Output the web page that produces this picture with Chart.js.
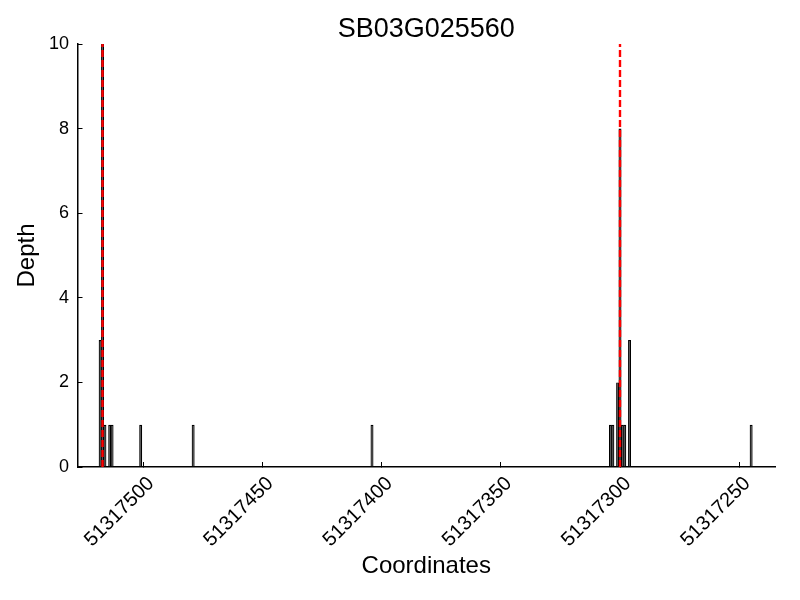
<!DOCTYPE html>
<html>
<head>
<meta charset="utf-8">
<title>SB03G025560</title>
<script src="https://cdn.jsdelivr.net/npm/chart.js@4/dist/chart.umd.min.js"></script>
<style>
  body { margin: 0; background: #fff; }
  #wrap { width: 800px; height: 600px; }
</style>
</head>
<body>
<div id="wrap"><canvas id="depthChart" width="800" height="600"></canvas></div>
<script>
// read depth per coordinate (only non-zero positions)
const coords = [51317518, 51317517, 51317516, 51317514, 51317513, 51317501, 51317479,
                51317404, 51317304, 51317303, 51317301, 51317300, 51317299, 51317298,
                51317296, 51317245];
const depths = [3, 10, 1, 1, 1, 1, 1, 1, 1, 1, 2, 8, 1, 1, 3, 1];

// red dashed markers
const markerCoords = [51317517, 51317300];
const xTicks = [51317500, 51317450, 51317400, 51317350, 51317300, 51317250];
const yTicks = [0, 2, 4, 6, 8, 10];
const xRange = [51317235, 51317527.5];
const yRange = [0, 10];

const FONT = "'Liberation Sans', Arial, sans-serif";
Chart.defaults.color = '#000';
Chart.defaults.font.family = FONT;

const markerSets = markerCoords.map(c => ({
    type: 'line',
    order: 0,
    data: [{ x: c, y: yRange[0] }, { x: c, y: yRange[1] }],
    borderColor: '#ff0000',
    borderWidth: 2.4,
    borderDash: [7, 3],
    pointRadius: 0,
    fill: false
}));

function renderChart() {
    const ctx = document.getElementById('depthChart').getContext('2d');

    new Chart(ctx, {
        type: 'bar',
        data: {
            datasets: [{
                order: 1,
                data: coords.map((c, i) => ({ x: c, y: depths[i] })),
                backgroundColor: '#2a2a2a',
                borderColor: '#000',
                borderWidth: 1.2,
                barPercentage: 1.25,
                categoryPercentage: 1
            }, ...markerSets]
        },
        options: {
            responsive: false,
            animation: false,
            layout: { padding: { right: 25 } },
            plugins: {
                legend: { display: false },
                tooltip: { enabled: false },
                title: {
                    display: true,
                    text: 'SB03G025560',
                    fullSize: false,
                    font: { size: 27, weight: 'normal', lineHeight: 1 },
                    padding: { top: 16, bottom: 1 }
                }
            },
            scales: {
                x: {
                    type: 'linear',
                    reverse: true,
                    offset: false,
                    bounds: 'data',
                    min: xRange[0],
                    max: xRange[1],
                    afterBuildTicks: scale => {
                        scale.ticks = xTicks.map(v => ({ value: v }));
                    },
                    afterFit: scale => { scale.height = 133; },
                    ticks: {
                        callback: v => String(v),
                        minRotation: 45,
                        maxRotation: 45,
                        padding: 10,
                        labelOffset: 8,
                        font: { size: 20 }
                    },
                    grid: {
                        offset: false,
                        drawOnChartArea: false,
                        tickLength: -5,
                        tickColor: '#000',
                        tickWidth: 1
                    },
                    border: { display: true, color: '#000', width: 1.5 },
                    title: {
                        display: true,
                        text: 'Coordinates',
                        font: { size: 24 },
                        padding: { top: 0, bottom: 19 }
                    }
                },
                y: {
                    min: yRange[0],
                    max: yRange[1],
                    afterBuildTicks: scale => {
                        scale.ticks = yTicks.map(v => ({ value: v }));
                    },
                    afterFit: scale => { scale.width = 77.5; },
                    ticks: {
                        padding: 13.5,
                        font: { size: 18 }
                    },
                    grid: {
                        drawOnChartArea: false,
                        tickLength: -5,
                        tickColor: '#000',
                        tickWidth: 1
                    },
                    border: { display: true, color: '#000', width: 1.5 },
                    title: {
                        display: true,
                        text: 'Depth',
                        font: { size: 24 },
                        padding: { top: 13, bottom: 0 }
                    }
                }
            }
        }
    });
}

renderChart();
</script>
</body>
</html>
